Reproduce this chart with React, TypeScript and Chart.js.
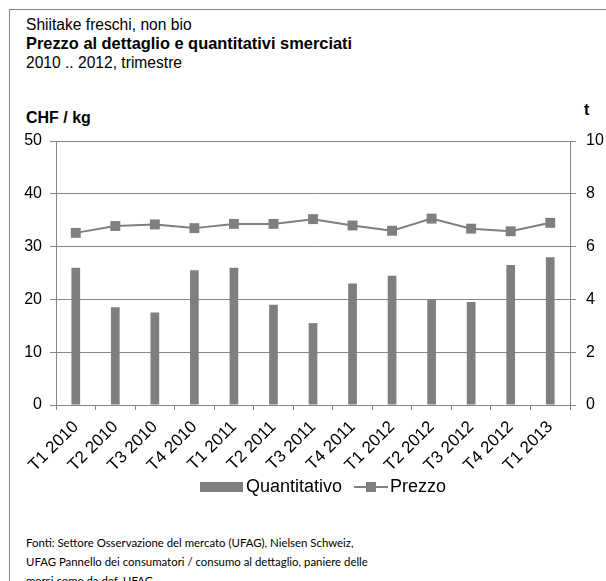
import React, { useEffect, useRef } from "react";
import { Chart, registerables } from "chart.js";

Chart.register(...registerables);

const categories = [
  "T1 2010", "T2 2010", "T3 2010", "T4 2010",
  "T1 2011", "T2 2011", "T3 2011", "T4 2011",
  "T1 2012", "T2 2012", "T3 2012", "T4 2012",
  "T1 2013",
];
// Quantitativo (t), right axis
const quantity = [5.2, 3.7, 3.5, 5.1, 5.2, 3.8, 3.1, 4.6, 4.9, 4.0, 3.9, 5.3, 5.6];
// Prezzo (CHF / kg), left axis
const price = [32.6, 33.9, 34.2, 33.5, 34.3, 34.3, 35.2, 34.0, 33.0, 35.3, 33.4, 32.9, 34.5];

const leftTicks = { min: 0, max: 50, step: 10 };
const rightTicks = { min: 0, max: 10, step: 2 };

const GREY = "#7f7f7f";
const GRID = "#868686";
const FONT = "'Liberation Sans', Arial, sans-serif";

export default function App() {
  const canvasRef = useRef<HTMLCanvasElement | null>(null);

  useEffect(() => {
    const canvas = canvasRef.current;
    if (!canvas) return;
    const tickFont = { family: FONT, size: 16 };
    const chart = new Chart(canvas, {
      type: "bar",
      data: {
        labels: categories,
        datasets: [
          {
            type: "line",
            label: "Prezzo",
            data: price,
            yAxisID: "y",
            borderColor: GREY,
            borderWidth: 2,
            backgroundColor: GREY,
            pointStyle: "rect",
            pointRadius: 7,
            pointBackgroundColor: GREY,
            pointBorderColor: GREY,
            pointBorderWidth: 0,
            tension: 0,
            order: 1,
          } as any,
          {
            type: "bar",
            label: "Quantitativo",
            data: quantity,
            yAxisID: "y1",
            backgroundColor: GREY,
            borderWidth: 0,
            barPercentage: 0.22,
            categoryPercentage: 1,
            order: 2,
          },
        ],
      },
      options: {
        animation: false,
        responsive: false,
        maintainAspectRatio: false,
        layout: { padding: { top: 21, left: 0, right: 0, bottom: 0 } },
        plugins: {
          legend: { display: false },
          title: { display: false },
          tooltip: { enabled: false },
        },
        scales: {
          x: {
            type: "category",
            offset: true,
            grid: {
              offset: true,
              drawOnChartArea: false,
              drawTicks: true,
              tickLength: 5,
              color: GRID,
              lineWidth: 1,
            },
            border: { color: GRID, width: 1 },
            ticks: {
              maxRotation: 45,
              minRotation: 45,
              autoSkip: false,
              color: "#000",
              font: { family: FONT, size: 17 },
              padding: 7,
            },
            afterFit: (s: any) => {
              s.height = 75;
            },
          },
          y: {
            type: "linear",
            position: "left",
            min: leftTicks.min,
            max: leftTicks.max,
            ticks: {
              stepSize: leftTicks.step,
              color: "#000",
              font: tickFont,
              padding: 8,
            },
            grid: {
              color: GRID,
              lineWidth: 1,
              drawTicks: true,
              tickLength: 6,
            },
            border: { color: GRID, width: 1 },
            afterFit: (s: any) => {
              s.width = 56;
            },
          },
          y1: {
            type: "linear",
            position: "right",
            min: rightTicks.min,
            max: rightTicks.max,
            ticks: {
              stepSize: rightTicks.step,
              color: "#000",
              font: tickFont,
              padding: 10,
            },
            grid: {
              drawOnChartArea: false,
              drawTicks: true,
              tickLength: 6,
              color: GRID,
            },
            border: { color: GRID, width: 1 },
            afterFit: (s: any) => {
              s.width = 36;
            },
          },
        },
      },
    });
    return () => chart.destroy();
  }, []);

  const txt: React.CSSProperties = {
    position: "absolute",
    fontFamily: FONT,
    fontSize: 16,
    lineHeight: "19px",
    color: "#000",
    whiteSpace: "nowrap",
  };

  return (
    <div style={{ position: "fixed", inset: 0, overflow: "hidden", background: "#fff" }}>
      <div
        style={{
          position: "absolute",
          left: 9,
          top: 9,
          width: 800,
          height: 800,
          border: `1px solid ${GRID}`,
        }}
      />
      <div style={{ ...txt, left: 26, top: 15 }}>
        <div style={{ fontSize: 15.6 }}>Shiitake freschi, non bio</div>
        <div style={{ fontWeight: "bold", fontSize: 16.4 }}>Prezzo al dettaglio e quantitativi smerciati</div>
        <div style={{ fontSize: 15.6 }}>2010 .. 2012, trimestre</div>
      </div>
      <div style={{ ...txt, left: 26, top: 108, fontWeight: "bold" }}>CHF / kg</div>
      <div style={{ ...txt, left: 584, top: 100, fontWeight: "bold" }}>t</div>
      <div style={{ position: "absolute", left: 0, top: 120, width: 606, height: 360 }}>
        <canvas ref={canvasRef} width={606} height={360} style={{ width: 606, height: 360 }} />
      </div>
      {/* legend */}
      <div style={{ position: "absolute", left: 200, top: 482, width: 43, height: 10, background: GREY }} />
      <div style={{ ...txt, left: 246, top: 476, fontSize: 18, lineHeight: "21px" }}>Quantitativo</div>
      <div style={{ position: "absolute", left: 354, top: 486, width: 34, height: 2, background: GREY }} />
      <div style={{ position: "absolute", left: 366, top: 482, width: 10, height: 10, background: GREY }} />
      <div style={{ ...txt, left: 390, top: 476, fontSize: 18, lineHeight: "21px" }}>Prezzo</div>
      {/* footer */}
      <div
        style={{
          ...txt,
          left: 26,
          top: 533,
          fontFamily: "Lato, 'Open Sans', sans-serif",
          fontSize: 11.4,
          lineHeight: "19px",
        }}
      >
        <div>Fonti: Settore Osservazione del mercato (UFAG), Nielsen Schweiz,</div>
        <div>UFAG Pannello dei consumatori / consumo al dettaglio, paniere delle</div>
        <div>merci come da def. UFAG</div>
      </div>
    </div>
  );
}
